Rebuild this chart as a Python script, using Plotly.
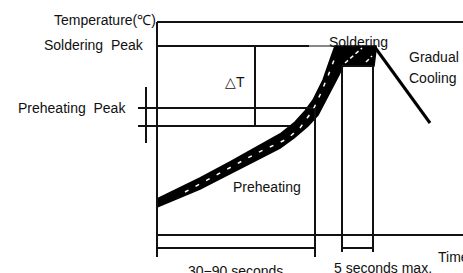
import plotly.graph_objects as go

# Schematic coordinates (time units on x, temperature level on y; y grows downward)
# Reflow profile band: upper and lower edges
band_upper_x = [157, 200, 230, 257, 280, 295, 305, 313, 323, 330, 335, 376]
band_upper_y = [199, 178, 162, 147, 134, 122, 111, 100, 80, 60, 46, 46]
band_lower_x = [376, 374, 343, 339, 326, 318, 308, 294, 280, 257, 230, 200, 157]
band_lower_y = [50, 66, 66, 75, 100, 115, 126, 138, 148, 160, 174, 189, 207]
center_x = [185, 230, 257, 287, 300, 313, 320, 328, 334]
center_y = [192, 168, 153, 139, 128, 110, 95, 76, 60]
top_dash_x = [345, 362, None, 366, 372]
top_dash_y = [63, 48, None, 62, 56]

# Cooling line
cool_x = [374, 430]
cool_y = [46, 123]

# Reference lines (level, start, end)
h_levels = [22, 46, 108, 126, 235, 248, 248, 66]
h_start = [157, 157, 138, 138, 157, 157, 342, 342]
h_end = [463, 309, 313, 290, 463, 315, 373, 373]
thin_h_level = [46]
thin_h_start = [309]
thin_h_end = [336]

v_pos = [157, 146, 255, 315, 342, 373]
v_start = [22, 87, 46, 108, 66, 66]
v_end = [257, 143, 126, 257, 252, 252]

labels = ["Temperature(℃)", "Soldering  Peak", "Preheating  Peak", "△T", "Soldering",
          "Gradual", "Cooling", "Preheating", "30−90 seconds", "5 seconds max.", "Time"]
label_x = [157, 145, 127, 224, 328, 408, 408, 232, 187, 333, 437]
label_y = [20, 45, 108, 82, 42, 57, 78, 187, 271, 268, 257]
label_anchor = ["right", "right", "right", "left", "left", "left", "left", "left", "left", "left", "left"]

fig = go.Figure()

# band fill
fig.add_trace(go.Scatter(
    x=band_upper_x + band_lower_x, y=band_upper_y + band_lower_y,
    fill="toself", fillcolor="black", mode="lines",
    line=dict(color="black", width=1.5), hoverinfo="skip", showlegend=False))
fig.add_trace(go.Scatter(
    x=center_x, y=center_y, mode="lines",
    line=dict(color="white", width=1.5, dash="4px,8px"), hoverinfo="skip", showlegend=False))
fig.add_trace(go.Scatter(
    x=top_dash_x, y=top_dash_y, mode="lines",
    line=dict(color="white", width=1.5, dash="4px,3px"), hoverinfo="skip", showlegend=False))
fig.add_trace(go.Scatter(
    x=cool_x, y=cool_y, mode="lines",
    line=dict(color="black", width=3), hoverinfo="skip", showlegend=False))

hx, hy = [], []
for lv, s, e in zip(h_levels, h_start, h_end):
    hx += [s, e, None]
    hy += [lv, lv, None]
fig.add_trace(go.Scatter(x=hx, y=hy, mode="lines",
                         line=dict(color="#111", width=2), hoverinfo="skip", showlegend=False))
tx, ty = [], []
for lv, s, e in zip(thin_h_level, thin_h_start, thin_h_end):
    tx += [s, e, None]
    ty += [lv, lv, None]
fig.add_trace(go.Scatter(x=tx, y=ty, mode="lines",
                         line=dict(color="#111", width=1), hoverinfo="skip", showlegend=False))
vx, vy = [], []
for p, s, e in zip(v_pos, v_start, v_end):
    vx += [p, p, None]
    vy += [s, e, None]
fig.add_trace(go.Scatter(x=vx, y=vy, mode="lines",
                         line=dict(color="#111", width=2), hoverinfo="skip", showlegend=False))

for t, x, y, a in zip(labels, label_x, label_y, label_anchor):
    fig.add_annotation(x=x, y=y, text=t, showarrow=False, xanchor=a, yanchor="middle",
                       font=dict(family="Liberation Sans, Arial, sans-serif", size=14, color="#111"),
                       borderpad=0)

fig.update_layout(
    width=463, height=273, margin=dict(l=0, r=0, t=0, b=0),
    paper_bgcolor="white", plot_bgcolor="white",
    xaxis=dict(range=[0, 463], visible=False, fixedrange=True),
    yaxis=dict(range=[273, 0], visible=False, fixedrange=True),
)
fig.write_html("out.html", config={"displayModeBar": False},
               post_script="document.body.style.margin='0';document.body.style.overflow='hidden';")
